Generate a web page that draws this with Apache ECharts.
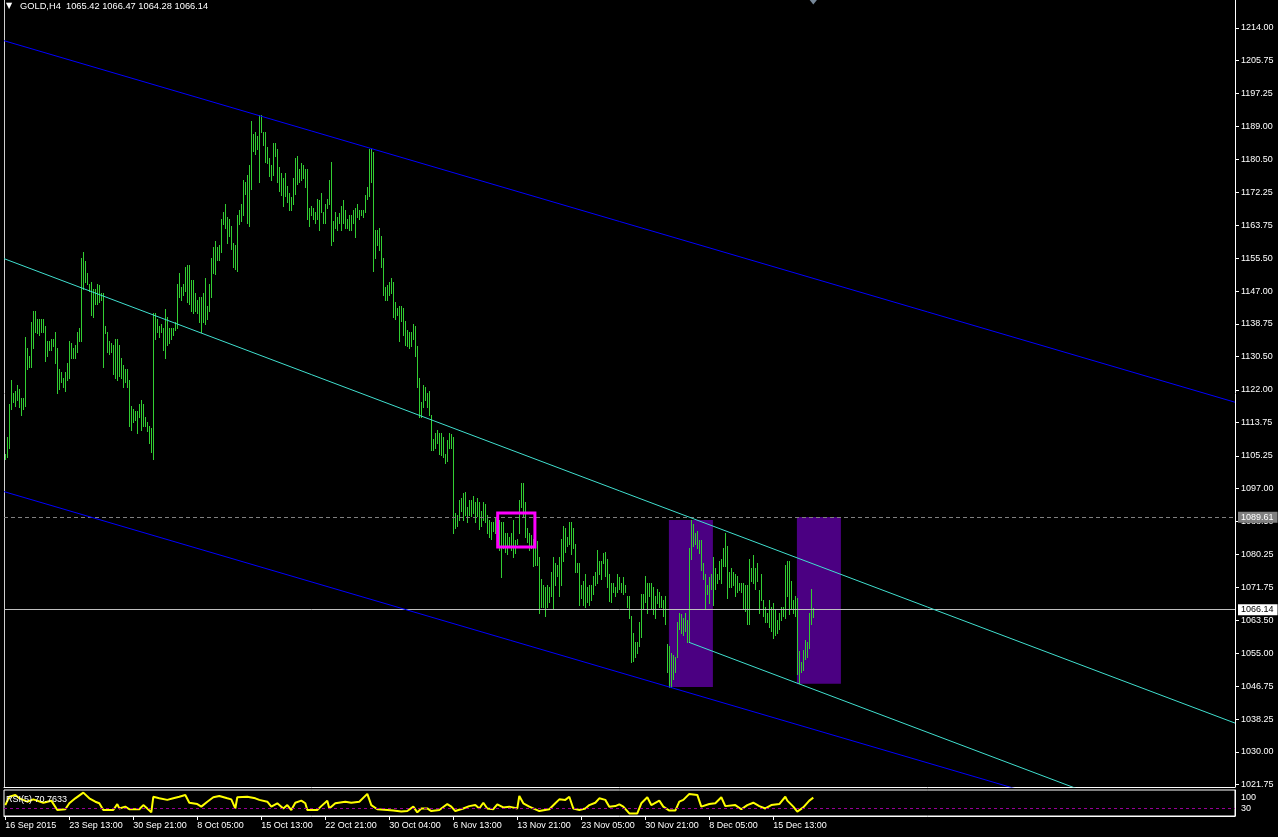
<!DOCTYPE html>
<html>
<head>
<meta charset="utf-8">
<script src="https://cdn.jsdelivr.net/npm/echarts@6/dist/echarts.min.js"></script>
<style>
html,body{margin:0;padding:0;background:#000;}
#chart{width:1278px;height:837px;}
</style>
</head>
<body>
<div id="chart"></div>
<script>
// ---- data (GOLD, H4) ----
const symbolName = 'GOLD,H4';
const lastBar = [1065.42, 1066.47, 1064.28, 1066.14]; // open high low close

const highs = [
1105.7,1110.0,1118.2,1124.3,1121.0,1121.7,1123.2,1122.0,1119.7,1119.7,
1135.4,1132.4,1130.4,1139.0,1141.8,1141.8,1140.0,1140.0,1139.8,1140.0,
1138.0,1134.4,1134.2,1134.7,1134.9,1136.7,1132.4,1127.1,1126.3,1124.8,
1126.3,1128.6,1134.4,1133.7,1132.4,1133.4,1136.5,1137.7,1155.3,1157.0,
1154.5,1151.5,1148.9,1149.2,1147.4,1147.6,1148.9,1148.4,1146.4,1146.4,
1138.2,1136.7,1134.2,1133.7,1133.4,1134.9,1134.9,1133.4,1130.1,1128.3,
1127.3,1127.1,1124.5,1117.9,1117.1,1116.4,1116.4,1118.2,1119.2,1118.2,
1114.9,1113.6,1112.8,1112.1,1141.5,1141.5,1140.0,1138.2,1138.7,1137.7,
1142.3,1140.3,1137.7,1137.5,1137.5,1139.0,1148.7,1151.5,1147.9,1148.9,
1153.2,1153.5,1153.7,1149.9,1149.7,1146.6,1144.6,1145.4,1145.4,1146.4,
1150.4,1143.1,1148.9,1155.3,1158.1,1159.8,1158.1,1158.6,1165.2,1167.0,
1169.2,1165.9,1165.2,1163.4,1159.1,1158.6,1166.4,1167.7,1169.0,1175.1,
1174.6,1176.4,1178.9,1190.1,1186.8,1187.5,1186.3,1191.6,1191.6,1187.3,
1187.3,1183.5,1180.9,1178.9,1184.7,1184.5,1183.2,1178.4,1177.1,1175.8,
1177.1,1173.6,1171.8,1170.8,1175.6,1180.7,1181.2,1177.9,1179.4,1178.9,
1178.1,1178.1,1168.2,1168.5,1168.2,1167.0,1170.3,1170.0,1172.0,1167.0,
1169.2,1170.3,1175.3,1179.7,1164.9,1167.0,1165.7,1166.7,1168.5,1170.0,
1167.5,1165.4,1166.2,1166.4,1167.7,1168.0,1169.0,1167.5,1167.5,1167.7,
1171.3,1173.3,1183.2,1183.2,1182.2,1162.4,1162.4,1162.9,1161.1,1155.5,
1147.9,1148.4,1149.2,1150.2,1149.4,1144.1,1142.6,1143.1,1143.1,1142.6,
1139.3,1137.0,1136.5,1136.5,1138.5,1138.2,1132.9,1125.0,1118.7,1123.0,
1122.7,1121.0,1121.5,1115.6,1109.4,1110.9,1111.6,1110.9,1111.0,1109.8,
1105.5,1109.1,1110.9,1110.7,1109.9,1090.7,1090.0,1094.0,1094.5,1095.6,
1095.8,1092.2,1094.0,1093.8,1095.0,1093.3,1094.5,1093.3,1091.0,1093.5,
1092.8,1090.2,1088.9,1088.2,1088.4,1089.5,1089.7,1088.9,1088.2,1088.2,
1085.4,1085.6,1084.4,1085.4,1088.7,1083.6,1084.1,1093.8,1098.3,1098.1,
1093.5,1086.9,1085.4,1085.1,1083.9,1085.6,1083.4,1079.5,1073.7,1072.4,
1071.9,1072.4,1071.7,1075.5,1079.3,1078.0,1077.3,1079.3,1084.1,1087.4,
1086.9,1084.4,1088.2,1088.2,1086.9,1082.6,1078.0,1078.0,1072.4,1073.2,
1075.0,1071.7,1072.2,1072.2,1074.7,1075.5,1081.1,1078.3,1078.5,1080.3,
1080.6,1078.8,1075.0,1072.7,1072.9,1071.9,1075.0,1074.2,1072.9,1074.2,
1072.4,1069.4,1069.6,1064.3,1060.2,1057.7,1057.9,1062.8,1069.9,1069.9,
1074.7,1072.9,1072.9,1072.9,1071.7,1069.6,1071.4,1070.6,1069.4,1068.6,
1069.4,1057.2,1056.9,1055.1,1054.4,1053.9,1062.8,1065.3,1064.8,1063.8,
1065.3,1063.3,1081.8,1088.9,1087.9,1085.6,1085.9,1083.6,1083.6,1077.8,
1075.2,1072.4,1074.2,1075.2,1079.3,1076.7,1075.0,1078.5,1078.8,1081.6,
1085.6,1082.3,1075.5,1076.5,1075.5,1075.2,1074.5,1072.9,1072.9,1072.9,
1072.2,1072.2,1079.0,1076.5,1079.8,1076.7,1077.8,1070.9,1075.0,1068.6,
1066.8,1065.1,1068.4,1066.6,1067.6,1066.1,1063.3,1065.1,1066.6,1066.8,
1077.3,1078.3,1078.3,1073.2,1068.6,1069.4,1068.9,1055.4,1052.6,1055.7,
1058.2,1057.9,1065.1,1071.4,1066.47
];
const lows = [
1104.2,1104.7,1107.2,1116.9,1118.7,1117.7,1119.2,1117.4,1115.4,1116.9,
1117.9,1127.3,1127.6,1127.6,1132.6,1136.7,1136.2,1135.9,1136.7,1136.5,
1129.3,1130.6,1131.9,1132.1,1132.9,1128.6,1121.2,1122.2,1123.8,1122.7,
1121.7,1124.5,1125.0,1129.9,1129.9,1129.9,1131.4,1134.2,1134.2,1147.6,
1149.2,1148.9,1146.9,1140.8,1140.5,1143.6,1143.8,1144.1,1144.6,1127.8,
1136.2,1131.4,1131.1,1131.4,1125.8,1125.0,1124.3,1125.3,1124.8,1122.7,
1124.0,1122.5,1112.8,1111.6,1113.8,1114.1,1111.0,1114.9,1111.6,1112.6,
1112.6,1111.3,1108.5,1106.0,1104.4,1134.9,1136.7,1135.2,1136.5,1132.1,
1130.1,1133.2,1133.9,1134.9,1135.9,1137.0,1137.7,1145.6,1144.6,1146.1,
1146.9,1144.1,1143.8,1141.8,1141.5,1142.0,1141.5,1139.0,1136.5,1139.0,
1138.7,1139.8,1141.8,1145.4,1151.5,1151.2,1154.8,1155.0,1156.8,1163.9,
1163.1,1159.3,1160.9,1157.6,1153.0,1152.5,1152.0,1163.9,1164.9,1166.4,
1171.6,1164.4,1163.4,1172.8,1182.7,1181.7,1183.0,1174.6,1187.3,1184.0,
1179.7,1179.4,1176.1,1175.3,1176.4,1181.2,1174.6,1172.5,1171.3,1168.5,
1171.1,1169.5,1167.7,1167.5,1169.2,1171.6,1174.3,1174.8,1175.3,1175.6,
1173.3,1165.4,1163.6,1166.2,1165.4,1164.4,1165.2,1162.6,1167.0,1164.4,
1164.4,1168.2,1169.0,1158.8,1159.8,1163.1,1162.4,1164.2,1162.4,1164.2,
1163.1,1162.9,1162.4,1162.6,1164.4,1160.6,1165.7,1165.4,1166.2,1165.7,
1167.0,1170.3,1171.1,1174.6,1152.2,1155.5,1158.8,1157.3,1153.2,1146.1,
1144.8,1144.8,1145.9,1146.6,1140.5,1139.8,1140.8,1134.2,1139.5,1135.9,
1133.4,1132.9,1132.6,1132.9,1134.9,1130.6,1122.5,1115.1,1114.9,1117.4,
1119.4,1117.4,1115.4,1106.5,1106.5,1107.0,1108.3,1105.5,1105.2,1104.7,
1103.2,1103.7,1107.2,1107.2,1085.6,1086.7,1087.2,1088.9,1091.2,1088.9,
1090.0,1088.2,1090.2,1089.7,1090.5,1088.2,1089.7,1086.4,1087.4,1088.9,
1088.2,1085.6,1084.4,1084.1,1085.9,1085.6,1086.9,1081.3,1074.2,1081.8,
1080.8,1080.1,1082.3,1081.3,1079.5,1080.3,1082.6,1085.6,1092.0,1089.7,
1084.4,1083.1,1081.1,1081.8,1077.0,1077.3,1077.3,1065.3,1066.8,1066.6,
1064.3,1066.6,1067.9,1069.4,1066.1,1072.2,1074.7,1069.4,1072.4,1078.3,
1080.8,1082.3,1082.6,1080.1,1081.6,1075.7,1075.7,1067.1,1068.9,1067.1,
1066.6,1067.9,1067.1,1068.6,1069.9,1072.4,1072.9,1075.2,1073.7,1077.8,
1074.7,1071.9,1068.1,1067.9,1070.4,1069.4,1070.4,1071.2,1070.4,1070.1,
1070.4,1066.8,1063.8,1052.6,1052.9,1054.1,1055.1,1056.7,1059.0,1066.3,
1067.9,1065.3,1069.6,1066.1,1064.8,1063.8,1067.6,1066.8,1066.6,1064.3,
1062.3,1050.3,1046.5,1046.3,1048.3,1050.1,1054.1,1061.0,1060.0,1059.7,
1060.5,1057.9,1057.7,1079.0,1082.1,1082.6,1081.6,1080.3,1076.2,1073.7,
1066.3,1070.1,1067.6,1071.4,1067.3,1071.2,1072.9,1073.7,1072.9,1077.0,
1077.0,1069.1,1071.9,1071.7,1072.2,1069.4,1070.6,1070.9,1070.4,1066.3,
1065.8,1062.3,1062.3,1073.4,1072.9,1071.2,1073.2,1065.3,1068.4,1064.3,
1063.0,1063.0,1061.5,1060.5,1058.7,1059.7,1060.2,1061.0,1063.5,1064.3,
1063.8,1069.4,1064.8,1066.1,1065.3,1064.3,1049.6,1047.5,1050.1,1050.6,
1053.4,1053.9,1056.2,1062.3,1064.28
];

// RSI(5) read at sampled bars: [bar index, value]
const rsiPoints = [
[0,42],[2,74],[5,81],[7,68],[11,55],[14,64],[19,51],[23,59],[26,23],[30,26],
[32,49],[35,68],[39,90],[42,68],[45,55],[47,49],[49,23],[54,23],[56,46],[57,29],
[60,36],[62,26],[67,26],[69,42],[71,29],[73,14],[74,74],[77,68],[81,62],[84,68],
[87,74],[90,81],[92,51],[96,46],[98,36],[101,55],[104,72],[107,77],[111,68],[113,64],
[115,29],[116,72],[121,74],[125,68],[127,62],[131,55],[133,36],[136,49],[139,29],[141,42],
[143,23],[145,51],[148,59],[150,49],[151,23],[156,23],[158,38],[161,59],[162,29],[165,49],
[170,55],[173,51],[177,55],[181,85],[182,87],[183,42],[186,26],[191,23],[194,21],[198,17],
[201,19],[204,36],[206,14],[208,29],[211,29],[213,19],[217,23],[221,46],[223,36],[225,19],
[229,29],[232,38],[235,42],[237,29],[239,51],[241,29],[244,26],[246,45],[249,33],[252,36],
[256,29],[257,77],[259,49],[262,36],[267,19],[272,26],[275,49],[277,64],[280,62],[282,74],
[284,29],[287,23],[290,29],[292,42],[295,51],[297,68],[300,62],[302,36],[305,38],[307,45],
[309,36],[312,10],[316,10],[318,49],[321,72],[323,42],[327,59],[329,36],[332,21],[335,21],
[337,55],[339,62],[342,85],[346,81],[348,36],[352,46],[355,49],[358,72],[360,38],[365,42],
[368,26],[371,42],[374,51],[377,38],[380,29],[383,42],[387,46],[390,74],[391,59],[394,36],
[396,17],[399,33],[402,59],[404,70.7633]
];
const rsiLevel = 30;
const rsiLabelValues = [100, 30];

// price axis tick labels
const priceTicks = [1214.00,1205.75,1197.25,1189.00,1180.50,1172.25,1163.75,1155.50,1147.00,1138.75,
1130.50,1122.00,1113.75,1105.25,1097.00,1088.50,1080.25,1071.75,1063.50,1055.00,1046.75,1038.25,1030.00,1021.75];

// time axis labels (bar index, text)
const dateIdx = [0,32,64,96,128,160,192,224,256,288,320,352,384];
const dateLabels = ['16 Sep 2015','23 Sep 13:00','30 Sep 21:00','8 Oct 05:00','15 Oct 13:00','22 Oct 21:00',
'30 Oct 04:00','6 Nov 13:00','13 Nov 21:00','23 Nov 05:00','30 Nov 21:00','8 Dec 05:00','15 Dec 13:00'];

// drawn objects (bar index, price)
const upperBlue = [[-0.65, 1210.73], [614.85, 1118.86]];
const lowerBlue = [[-0.65, 1096.15], [614.85, 1004.28]];
const upperCyan = [[-0.65, 1155.35], [614.85, 1037.33]];
const lowerCyan = [[341.8, 1057.86], [614.85, 1005.50]];
const purpleRects = [[331.8, 353.8, 1088.94, 1046.50], [395.8, 417.8, 1089.70, 1047.34]];
const magentaRect = [246.2, 264.8, 1090.72, 1082.08];
const dashedLevel = 1089.61;
const bidLevel = lastBar[3];

// ---- chart ----
const X_MIN = -0.65, X_MAX = 614.85;
const Y_MIN = 1021.09, Y_MAX = 1221.07;
const FONT = 'Liberation Sans';
const BAR_COLOR = '#32CD32';

const chart = echarts.init(document.getElementById('chart'), null, {renderer: 'canvas'});

function trend(data, color) {
  return {
    type: 'line', data: data, xAxisIndex: 0, yAxisIndex: 0, showSymbol: false, symbol: 'none',
    silent: true, clip: true, z: 3, lineStyle: {color: color, width: 1}
  };
}

const barData = highs.map((h, i) => [i, h, lows[i]]);

const option = {
  backgroundColor: '#000000',
  animation: false,
  textStyle: {fontFamily: FONT},
  title: [
    {text: '\u25BC', left: 6, top: 2, padding: 0,
     textStyle: {color: '#ffffff', fontSize: 8, fontWeight: 'normal', fontFamily: 'DejaVu Sans'}},
    {text: symbolName + '  ' + lastBar.map(v => v.toFixed(2)).join(' '),
     left: 20, top: 2, padding: 0,
     textStyle: {color: '#ffffff', fontSize: 9.3, fontWeight: 'normal', fontFamily: FONT}},
    {text: 'RSI(5) ' + rsiPoints[rsiPoints.length - 1][1].toFixed(4),
     left: 6, top: 795, padding: 0,
     textStyle: {color: '#ffffff', fontSize: 9, fontWeight: 'normal', fontFamily: FONT}}
  ],
  grid: [
    {left: 4, right: 43, top: 0, height: 787, show: false},
    {left: 4, right: 43, top: 790, height: 26, show: true, borderColor: '#ffffff', borderWidth: 1, backgroundColor: 'rgba(0,0,0,0)'}
  ],
  xAxis: [
    {type: 'value', gridIndex: 0, min: X_MIN, max: X_MAX,
     axisLine: {show: true, onZero: false, lineStyle: {color: '#ffffff', width: 1}},
     axisTick: {show: false}, axisLabel: {show: false}, splitLine: {show: false}},
    {type: 'value', gridIndex: 1, min: X_MIN, max: X_MAX,
     axisLine: {show: true, onZero: false, lineStyle: {color: '#ffffff', width: 1}},
     axisTick: {show: true, customValues: dateIdx, length: 4, lineStyle: {color: '#ffffff'}},
     axisLabel: {show: true, customValues: dateIdx, color: '#ffffff', fontSize: 9, fontFamily: FONT,
                 align: 'left', margin: 5,
                 formatter: v => { const k = dateIdx.indexOf(Math.round(v)); return k >= 0 ? dateLabels[k] : ''; }},
     splitLine: {show: false}}
  ],
  yAxis: [
    {type: 'value', gridIndex: 0, position: 'right', min: Y_MIN, max: Y_MAX,
     axisLine: {show: true, onZero: false, lineStyle: {color: '#ffffff', width: 1}},
     axisTick: {show: true, customValues: priceTicks, length: 4, lineStyle: {color: '#ffffff'}},
     axisLabel: {show: true, customValues: priceTicks, color: '#ffffff', fontSize: 9, fontFamily: FONT, margin: 6,
                 formatter: v => Number(v).toFixed(2)},
     splitLine: {show: false}},
    {type: 'value', gridIndex: 1, position: 'right', min: 0, max: 100,
     axisLine: {show: true, onZero: false, lineStyle: {color: '#ffffff', width: 1}},
     axisTick: {show: false},
     axisLabel: {show: true, customValues: rsiLabelValues, color: '#ffffff', fontSize: 9, fontFamily: FONT, margin: 6,
                 formatter: v => (v === 100 ? '{t|100}' : '{b|' + v + '}'),
                 rich: {t: {color: '#ffffff', fontSize: 9, fontFamily: FONT, padding: [15, 0, 0, 0]},
                        b: {color: '#ffffff', fontSize: 9, fontFamily: FONT}}},
     splitLine: {show: false}},
    {type: 'value', gridIndex: 0, position: 'left', min: Y_MIN, max: Y_MAX,
     axisLine: {show: true, onZero: false, lineStyle: {color: '#d0d0d0', width: 1}},
     axisTick: {show: false}, axisLabel: {show: false}, splitLine: {show: false}}
  ],
  series: [
    // bars (high-low)
    {
      type: 'custom', xAxisIndex: 0, yAxisIndex: 0, z: 2, silent: true, clip: true,
      data: barData,
      encode: {x: 0, y: [1, 2]},
      renderItem: function (params, api) {
        const i = api.value(0);
        const pH = api.coord([i, api.value(1)]);
        const pL = api.coord([i, api.value(2)]);
        const xc = Math.floor(pH[0]) + 0.5;
        let y1 = Math.floor(pH[1]), y2 = Math.ceil(pL[1]);
        if (y2 <= y1) y2 = y1 + 1;
        return {type: 'line', shape: {x1: xc, y1: y1, x2: xc, y2: y2},
                style: {stroke: BAR_COLOR, lineWidth: 1}};
      }
    },
    // upper blue line + horizontal levels
    Object.assign(trend(upperBlue, '#0000FF'), {
      markLine: {
        silent: true, symbol: 'none', z: 3,
        data: [
          {yAxis: dashedLevel,
           lineStyle: {color: '#808080', type: [4, 3], width: 1},
           label: {show: true, position: 'end', distance: 3, formatter: p => Number(p.value).toFixed(2),
                   color: '#ffffff', backgroundColor: '#808080', fontSize: 9, fontFamily: FONT,
                   padding: [1, 4, 0, 3], lineHeight: 10}},
          {yAxis: bidLevel,
           lineStyle: {color: '#C0C0C0', type: 'solid', width: 1},
           label: {show: true, position: 'end', distance: 3, formatter: p => Number(p.value).toFixed(2),
                   color: '#000000', backgroundColor: '#ffffff', fontSize: 9, fontFamily: FONT,
                   padding: [1, 4, 0, 3], lineHeight: 10}}
        ]
      },
      markPoint: {
        silent: true,
        data: [{coord: [highs.length - 1, Y_MAX], symbol: 'triangle', symbolRotate: 180,
                symbolSize: [8, 5], symbolOffset: [0, 2], itemStyle: {color: '#778899'}, label: {show: false}}]
      }
    }),
    // lower blue + magenta rectangle
    Object.assign(trend(lowerBlue, '#0000FF'), {
      markArea: {
        silent: true, z: 6,
        itemStyle: {color: 'rgba(0,0,0,0)', borderColor: '#FF00FF', borderWidth: 3},
        data: [[{coord: [magentaRect[0], magentaRect[2]]}, {coord: [magentaRect[1], magentaRect[3]]}]]
      }
    }),
    // upper cyan + purple rectangles
    Object.assign(trend(upperCyan, '#40E0D0'), {
      markArea: {
        silent: true, z: 1,
        itemStyle: {color: '#4B0082'},
        data: purpleRects.map(r => [{coord: [r[0], r[2]]}, {coord: [r[1], r[3]]}])
      }
    }),
    trend(lowerCyan, '#40E0D0'),
    // RSI
    {
      type: 'line', xAxisIndex: 1, yAxisIndex: 1, data: rsiPoints, showSymbol: false, symbol: 'none',
      silent: true, clip: true, z: 3,
      lineStyle: {color: '#FFFF00', width: 2},
      markLine: {
        silent: true, symbol: 'none',
        data: [{yAxis: rsiLevel}],
        lineStyle: {color: '#960096', type: [3, 3], width: 1},
        label: {show: false}
      }
    }
  ]
};

chart.setOption(option);
</script>
</body>
</html>
